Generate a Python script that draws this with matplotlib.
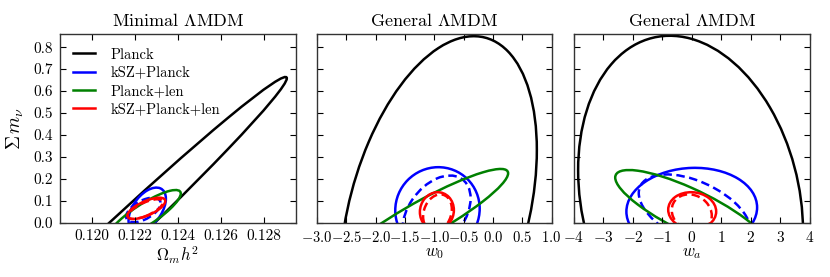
import numpy as np
import matplotlib
matplotlib.use("Agg")
import matplotlib.pyplot as plt
from matplotlib.patches import Circle
from matplotlib.transforms import Affine2D
from matplotlib.lines import Line2D

plt.rcParams['font.family'] = 'serif'
plt.rcParams['font.serif'] = ['cmr10']
plt.rcParams['mathtext.fontset'] = 'cm'
plt.rcParams['axes.formatter.use_mathtext'] = True
plt.rcParams['axes.unicode_minus'] = True

# ---------------- data ----------------
labels = ["Planck", "kSZ+Planck", "Planck+len", "kSZ+Planck+len"]
colors = ["#000000", "#0000ff", "#008000", "#ff0000"]

titles = [r"Minimal $\Lambda$MDM", r"General $\Lambda$MDM", r"General $\Lambda$MDM"]
xlabels = [r"$\Omega_m h^2$", r"$w_0$", r"$w_a$"]
ylabel = r"$\Sigma\, m_\nu$"

xlims = [(0.1185, 0.1295), (-3.0, 1.0), (-4.0, 4.0)]
ylim = (0.0, 0.86)
xticks_left = [0.120, 0.122, 0.124, 0.126, 0.128]
xticks_mid = [-3.0, -2.5, -2.0, -1.5, -1.0, -0.5, 0.0, 0.5, 1.0]
xticks_right = [-4, -3, -2, -1, 0, 1, 2, 3, 4]
yticks = [0.0, 0.1, 0.2, 0.3, 0.4, 0.5, 0.6, 0.7, 0.8]

# contour ellipses: centre (cx, cy), extents (sx, sy), correlation rho
# order: Planck, kSZ+Planck, Planck+len, kSZ+Planck+len
omh2_cx = [0.11973, 0.12258, 0.12245, 0.12254]
omh2_cy = [-0.20, 0.060, 0.035, 0.0655]
omh2_sx = [0.009343, 0.000869, 0.00169, 0.00088]
omh2_sy = [0.864, 0.100, 0.114, 0.0485]
omh2_rho = [0.9932, 0.4926, 0.858, 0.68]
# dashed variants (kSZ+Planck, kSZ+Planck+len)
omh2_dash_cx = [0.1224, 0.1225]
omh2_dash_cy = [0.058, 0.062]
omh2_dash_sx = [0.00080, 0.00082]
omh2_dash_sy = [0.056, 0.045]
omh2_dash_rho = [0.55, 0.70]

w0_cx = [-0.93, -0.945, -1.21, -0.955]
w0_cy = [0.04, 0.06, 0.014, 0.053]
w0_sx = [1.68, 0.72, 1.47, 0.29]
w0_sy = [0.81, 0.193, 0.231, 0.086]
w0_rho = [0.36, 0.02, 0.914, 0.05]
w0_dash_cx = [-0.96, -0.945]
w0_dash_cy = [0.043, 0.045]
w0_dash_sx = [0.58, 0.245]
w0_dash_sy = [0.172, 0.084]
w0_dash_rho = [0.395, 0.20]

wa_cx = [-0.04, 0.0, 0.0, 0.015]
wa_cy = [0.10, 0.06, 0.05, 0.055]
wa_sx = [3.82, 2.22, 2.60, 0.815]
wa_sy = [0.752, 0.19, 0.19, 0.084]
wa_rho = [-0.185, 0.05, -0.82, -0.05]
wa_dash_cx = [0.10, 0.0]
wa_dash_cy = [0.05, 0.045]
wa_dash_sx = [1.90, 0.68]
wa_dash_sy = [0.17, 0.084]
wa_dash_rho = [-0.50, -0.15]

dash_colors = [colors[1], colors[3]]

# ---------------- plotting ----------------
fig = plt.figure(figsize=(8.3, 2.77), dpi=100)
W, H = 830.0, 277.0
top_px, bot_px = 34.0, 222.7
lefts = [59.5, 317.0, 574.0]
rights = [296.0, 551.5, 809.5]
axes = []
for i in range(3):
    ax = fig.add_axes([lefts[i] / W, 1 - bot_px / H, (rights[i] - lefts[i]) / W,
                       (bot_px - top_px) / H])
    axes.append(ax)

LW = 1.8


def add_contour(ax, cx, cy, sx, sy, rho, color, ls):
    m = Affine2D.from_values(sx, rho * sy, 0.0, sy * np.sqrt(1 - rho ** 2), cx, cy)
    c = Circle((0, 0), 1.0, fill=False, edgecolor=color, lw=LW,
               transform=m + ax.transData)
    if ls == '--':
        c.set_linestyle((0, (3.4, 1.8)))
    ax.add_patch(c)


panel_data = [
    (omh2_cx, omh2_cy, omh2_sx, omh2_sy, omh2_rho,
     omh2_dash_cx, omh2_dash_cy, omh2_dash_sx, omh2_dash_sy, omh2_dash_rho),
    (w0_cx, w0_cy, w0_sx, w0_sy, w0_rho,
     w0_dash_cx, w0_dash_cy, w0_dash_sx, w0_dash_sy, w0_dash_rho),
    (wa_cx, wa_cy, wa_sx, wa_sy, wa_rho,
     wa_dash_cx, wa_dash_cy, wa_dash_sx, wa_dash_sy, wa_dash_rho),
]

for ax, pdat in zip(axes, panel_data):
    cxs, cys, sxs, sys_, rhos, dcx, dcy, dsx, dsy, drho = pdat
    for k in range(4):
        add_contour(ax, cxs[k], cys[k], sxs[k], sys_[k], rhos[k], colors[k], '-')
        if k == 1:
            add_contour(ax, dcx[0], dcy[0], dsx[0], dsy[0], drho[0], dash_colors[0], '--')
        if k == 3:
            add_contour(ax, dcx[1], dcy[1], dsx[1], dsy[1], drho[1], dash_colors[1], '--')

for i, ax in enumerate(axes):
    ax.set_xlim(*xlims[i])
    ax.set_ylim(*ylim)
    ax.set_yticks(yticks)
    ax.tick_params(direction='in', top=True, right=True, length=4, width=0.8,
                   labelsize=11, pad=5)
    ax.set_title(titles[i], fontsize=13, pad=6)
    ax.set_xlabel(xlabels[i], fontsize=12, labelpad=1)
    for s in ax.spines.values():
        s.set_color('#333333')
        s.set_linewidth(1.0)
    if i > 0:
        ax.set_yticklabels([])

axes[0].set_xticks(xticks_left)
axes[0].set_xticklabels(["%.3f" % v for v in xticks_left])
axes[1].set_xticks(xticks_mid)
axes[1].set_xticklabels([r"$%.1f$" % v for v in xticks_mid], fontsize=10.5)
axes[2].set_xticks(xticks_right)
axes[2].set_xticklabels([r"$%d$" % v for v in xticks_right])
axes[0].set_yticklabels(["%.1f" % v for v in yticks])
axes[0].set_ylabel(ylabel, fontsize=14, labelpad=5)

handles = [Line2D([], [], color=c, lw=LW) for c in colors]
axes[0].legend(handles, labels, loc='upper left', frameon=False, fontsize=10.5,
               handlelength=1.45, handletextpad=1.1, labelspacing=0.3,
               borderaxespad=0.55)

fig.savefig("out.png", dpi=100)
